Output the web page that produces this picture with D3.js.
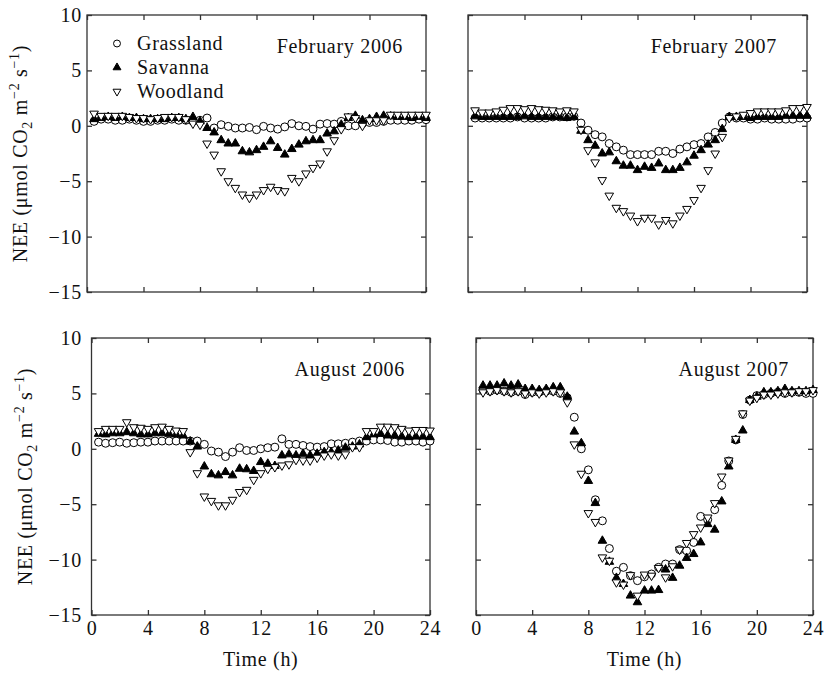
<!DOCTYPE html>
<html><head><meta charset="utf-8">
<script src="https://cdn.jsdelivr.net/npm/d3@7"></script>
<style>
body{margin:0;background:#fff}
text{font-family:"Liberation Serif","Times New Roman",serif;fill:#111;letter-spacing:0.7px}
</style>
</head><body><svg id="c" width="828" height="676"></svg>
<script>
const hours = [0.5,1,1.5,2,2.5,3,3.5,4,4.5,5,5.5,6,6.5,7,7.5,8,
  8.5,9,9.5,10,10.5,11,11.5,12,12.5,13,13.5,14,14.5,15,15.5,16,
  16.5,17,17.5,18,18.5,19,19.5,20,20.5,21,21.5,22,22.5,23,23.5,24];

const seriesNames = ["Grassland","Savanna","Woodland"];
const panelTitles = ["February 2006","February 2007","August 2006","August 2007"];
const xTicks = [0,4,8,12,16,20,24];
const yTicks = [-15,-10,-5,0,5,10];

const feb2006Grassland = [0.4,0.6,0.6,0.5,0.5,0.6,0.5,0.4,0.4,0.5,0.5,0.6,0.5,0.5,0.4,0.5,
  0.7,-0.2,0.1,-0.05,-0.2,-0.2,-0.15,-0.35,-0.05,-0.2,-0.3,-0.1,0.2,0,-0.05,-0.3,
  0.15,0.2,0.15,0.4,0,0,0.2,0.3,0.3,0.4,0.5,0.5,0.5,0.5,0.6,0.55];
const feb2006Savanna = [0.6,0.7,0.8,0.7,0.8,0.7,0.7,0.6,0.6,0.6,0.6,0.7,0.7,0.6,0.8,0.4,
  -0.2,-0.6,-1.3,-1.6,-1.6,-2.3,-2.4,-2.2,-1.9,-1.4,-2.0,-2.6,-2.1,-1.7,-1.4,-1.3,
  -1.3,-0.7,-0.5,0.1,0.7,0.9,0.5,0.6,0.8,0.9,0.85,0.8,0.8,0.7,0.8,0.7];
const feb2006Woodland = [1.1,0.9,0.9,0.9,0.9,0.8,0.7,0.7,0.6,0.7,0.8,0.8,0.8,0.6,0.2,0.1,
  -1.6,-2.6,-4.1,-5.0,-5.6,-6.2,-6.5,-6.2,-5.8,-5.5,-5.8,-5.9,-4.7,-5.0,-4.3,-3.8,
  -3.4,-2.3,-1.3,-0.3,0.85,0.7,0,0.5,0.5,0.5,1.0,1.0,1.0,1.0,1.0,1.0];

const feb2007Grassland = [0.7,0.7,0.7,0.7,0.7,0.7,0.8,0.7,0.7,0.7,0.7,0.8,0.8,0.8,0.85,0.25,
  -0.4,-0.8,-1.0,-1.6,-1.9,-2.2,-2.6,-2.6,-2.6,-2.6,-2.3,-2.3,-2.5,-2.1,-1.9,-1.7,
  -1.6,-1.0,-0.6,0.25,0.8,0.7,0.7,0.6,0.6,0.7,0.6,0.6,0.6,0.6,0.7,0.7];
const feb2007Savanna = [0.85,0.8,0.8,0.8,0.8,0.8,0.8,0.85,0.8,0.8,0.8,0.8,0.8,0.7,0.8,-0.45,
  -1.3,-1.8,-2.5,-2.4,-3.2,-3.6,-3.6,-4.0,-3.7,-3.8,-3.4,-4.0,-4.0,-3.8,-3.3,-2.7,
  -2.2,-1.7,-1.3,-0.3,0.8,0.8,0.8,0.7,0.8,0.8,0.8,0.8,0.9,0.9,0.9,0.9];
const feb2007Woodland = [1.4,1.2,1.2,1.3,1.45,1.6,1.6,1.5,1.6,1.5,1.45,1.4,1.3,1.4,1.3,-0.35,
  -2.2,-3.3,-4.9,-6.3,-7.4,-7.7,-8.1,-8.6,-8.3,-8.3,-8.9,-8.5,-8.8,-8.1,-7.5,-6.7,
  -5.6,-4.0,-2.5,-1.0,0.7,0.85,1.0,1.15,1.3,1.3,1.3,1.3,1.4,1.6,1.6,1.7];

const aug2006Grassland = [0.6,0.5,0.55,0.6,0.5,0.55,0.6,0.6,0.7,0.7,0.7,0.7,0.7,0.7,0.7,0.4,
  -0.2,-0.3,-0.7,-0.3,0.1,-0.15,-0.15,0,0.1,0.15,0.9,0.4,0.4,0.3,0.2,0.15,
  0.2,0.45,0.45,0.5,0.6,0.7,0.7,0.8,0.8,0.75,0.6,0.6,0.7,0.7,0.6,0.7];
const aug2006Savanna = [1.35,1.3,1.4,1.4,1.5,1.4,1.3,1.3,1.4,1.4,1.35,1.3,1.2,0.65,0.2,-1.6,
  -2.3,-2.4,-2.1,-2.4,-1.8,-1.85,-2.0,-1.2,-1.35,-1.55,-0.6,-0.5,-0.6,-0.45,-0.6,-0.45,
  -0.3,-0.3,-0.15,0.1,0.2,0.4,1.05,1.3,1.35,1.2,1.2,1.1,1.05,1.1,1.1,1.05];
const aug2006Woodland = [1.6,1.8,1.8,1.8,2.4,1.95,1.9,1.8,1.95,2.0,1.8,1.65,1.6,-0.3,-2.2,-4.3,
  -4.7,-5.1,-5.1,-4.6,-3.9,-3.7,-2.8,-2.2,-1.8,-1.65,-1.5,-1.4,-1.0,-1.05,-1.05,-0.8,
  -0.6,-0.5,-0.6,-0.5,0.15,0.15,1.6,1.6,2.0,2.0,1.95,1.8,1.65,1.7,1.7,1.65];

const aug2007Grassland = [5.3,5.2,5.3,5.2,5.1,5.2,4.9,5.1,5.1,5.2,5.2,5.0,4.6,2.85,0.0,-1.9,
  -4.6,-6.5,-9.0,-11.05,-10.7,-11.45,-11.9,-11.55,-11.3,-10.7,-10.4,-10.4,-9.1,-9.2,-8.45,-6.1,
  -6.4,-5.5,-3.3,-1.1,0.8,3.1,4.4,4.8,4.9,5.0,5.1,5.0,5.1,5.1,5.0,5.0];
const aug2007Savanna = [5.7,5.7,5.7,5.9,5.7,5.8,5.4,5.4,5.3,5.4,5.55,5.55,4.7,1.55,0.5,-2.9,
  -4.9,-8.3,-10.2,-11.65,-12.2,-13.25,-13.85,-12.8,-12.8,-12.75,-10.9,-11.65,-10.55,-9.85,-9.5,-8.45,
  -6.8,-7.3,-4.75,-1.6,0.8,1.65,4.4,4.7,5.1,5.1,5.2,5.4,5.2,5.2,5.2,5.3];
const aug2007Woodland = [5.1,5.2,5.3,5.2,5.1,5.2,5.0,5.1,5.0,5.1,5.2,5.1,4.2,0.4,-2.25,-5.8,
  -6.6,-9.8,-10.1,-12.05,-12.25,-11.4,-13.25,-11.35,-11.45,-10.75,-11.6,-10.6,-9.1,-8.5,-7.7,-7.1,
  -6.2,-4.9,-2.5,-1.05,0.9,3.2,4.35,4.6,4.9,4.9,5.0,5.1,5.1,5.2,5.2,5.3];

const svg = d3.select("#c");
const FS = 20;
const minus = v => v < 0 ? "\u2212" + Math.abs(v) : String(v);

const panels = [
  {title: panelTitles[0], data: [feb2006Grassland, feb2006Savanna, feb2006Woodland],
   x0: 87, x1: 426, y0: 15, y1: 292, yLab: true, xLab: false, titleGap: 23, legend: true},
  {title: panelTitles[1], data: [feb2007Grassland, feb2007Savanna, feb2007Woodland],
   x0: 468, x1: 807, y0: 15, y1: 292, yLab: false, xLab: false, titleGap: 30},
  {title: panelTitles[2], data: [aug2006Grassland, aug2006Savanna, aug2006Woodland],
   x0: 91.5, x1: 430, y0: 338, y1: 615, yLab: true, xLab: true, titleGap: 25},
  {title: panelTitles[3], data: [aug2007Grassland, aug2007Savanna, aug2007Woodland],
   x0: 476, x1: 813, y0: 338, y1: 615, yLab: false, xLab: true, titleGap: 24}
];

const symCircle = d3.symbol(d3.symbolCircle, 50)();
const symTri = d3.symbol(d3.symbolTriangle, 32)();
const legCircle = d3.symbol(d3.symbolCircle, 38)();
const legTri = d3.symbol(d3.symbolTriangle, 27)();
const markerStyles = [
  {path: symCircle, leg: legCircle, fill: "#fff", rot: 0},
  {path: symTri, leg: legTri, fill: "#000", rot: 0},
  {path: symTri, leg: legTri, fill: "#fff", rot: 180}
];

panels.forEach(p => {
  const x = d3.scaleLinear().domain([0, 24]).range([p.x0, p.x1]);
  const y = d3.scaleLinear().domain([-15, 10]).range([p.y1, p.y0]);
  const g = svg.append("g");

  g.append("rect").attr("x", p.x0).attr("y", p.y0)
    .attr("width", p.x1 - p.x0).attr("height", p.y1 - p.y0)
    .attr("fill", "none").attr("stroke", "#333").attr("stroke-width", 1.3);

  const styleAxis = sel => {
    sel.select(".domain").remove();
    sel.selectAll(".tick line").attr("stroke", "#333").attr("stroke-width", 1.3);
    sel.selectAll("text").attr("font-size", FS).attr("fill", "#111")
      .attr("font-family", "Liberation Serif");
  };

  g.append("g").attr("transform", `translate(${p.x0},0)`)
    .call(d3.axisLeft(y).tickValues(yTicks).tickSize(-5)
      .tickPadding(p.x0 - 82).tickFormat(p.yLab ? minus : () => ""))
    .call(styleAxis);
  g.append("g").attr("transform", `translate(${p.x1},0)`)
    .call(d3.axisRight(y).tickValues(yTicks).tickSize(-5).tickFormat(() => ""))
    .call(styleAxis);
  g.append("g").attr("transform", `translate(0,${p.y0})`)
    .call(d3.axisTop(x).tickValues(xTicks).tickSize(-5).tickFormat(() => ""))
    .call(styleAxis);
  g.append("g").attr("transform", `translate(0,${p.y1})`)
    .call(d3.axisBottom(x).tickValues(xTicks).tickSize(-5).tickPadding(6)
      .tickFormat(p.xLab ? d => String(d) : () => ""))
    .call(styleAxis);

  p.data.forEach((vals, si) => {
    const st = markerStyles[si];
    g.append("g").selectAll("path").data(vals.map((v, i) => [hours[i], v]))
      .join("path")
      .attr("d", st.path)
      .attr("transform", d => `translate(${x(d[0])},${y(d[1])}) rotate(${st.rot})`)
      .attr("fill", st.fill).attr("stroke", "#000").attr("stroke-width", 1);
  });

  g.append("text").attr("x", p.x1 - p.titleGap).attr("y", p.y0 + 38)
    .attr("text-anchor", "end").attr("font-size", FS).text(p.title);

  if (p.legend) {
    seriesNames.forEach((name, si) => {
      const st = markerStyles[si];
      const by = p.y0 + 35 + si * 24;
      g.append("path").attr("d", st.leg)
        .attr("transform", `translate(${p.x0 + 30},${by - 6.5}) rotate(${st.rot})`)
        .attr("fill", st.fill).attr("stroke", "#000").attr("stroke-width", 1);
      g.append("text").attr("x", p.x0 + 50).attr("y", by)
        .attr("font-size", FS).text(name);
    });
  }

  if (p.yLab) {
    const cy = (p.y0 + p.y1) / 2;
    const t = g.append("text").attr("transform", `translate(${p.x0 - 60},${cy}) rotate(-90)`)
      .attr("text-anchor", "middle").attr("font-size", FS);
    t.append("tspan").text("NEE (\u03bcmol CO");
    t.append("tspan").attr("font-size", 14).attr("dy", 5).text("2");
    t.append("tspan").attr("dy", -5).text(" m");
    t.append("tspan").attr("font-size", 14).attr("dy", -8).text("\u22122");
    t.append("tspan").attr("dy", 8).text(" s");
    t.append("tspan").attr("font-size", 14).attr("dy", -8).text("\u22121");
    t.append("tspan").attr("dy", 8).text(")");
  }

  if (p.xLab) {
    g.append("text").attr("x", (p.x0 + p.x1) / 2).attr("y", 666)
      .attr("text-anchor", "middle").attr("font-size", FS).text("Time (h)");
  }
});
</script></body></html>
